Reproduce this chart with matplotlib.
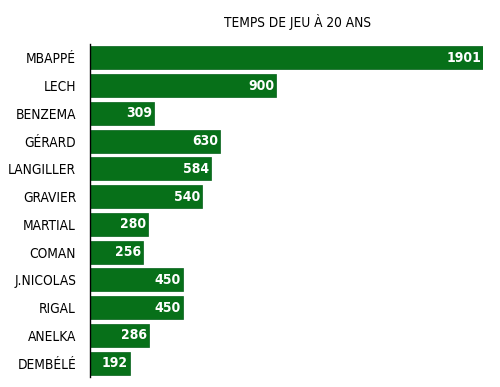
import matplotlib
matplotlib.use('Agg')
import matplotlib.pyplot as plt

# data
players = ['MBAPPÉ', 'LECH', 'BENZEMA', 'GÉRARD', 'LANGILLER', 'GRAVIER',
           'MARTIAL', 'COMAN', 'J.NICOLAS', 'RIGAL', 'ANELKA', 'DEMBÉLÉ']
minutes = [1901, 900, 309, 630, 584, 540, 280, 256, 450, 450, 286, 192]

plt.rcParams['font.family'] = ['DejaVu Sans']
plt.rcParams['font.stretch'] = 'condensed'

fig = plt.figure(figsize=(5, 3.87), dpi=100)
ax = fig.add_axes([0.18, 0.026, 0.786, 0.86])

pos = list(range(len(players)))
ax.barh(pos, minutes, height=0.83, color='#077019', edgecolor='#05601a', linewidth=0.5)
for y, v in zip(pos, minutes):
    ax.text(v - 9, y, str(v), color='white', ha='right', va='center',
            fontsize=10, fontweight='bold', fontstretch='condensed')

ax.set_yticks(pos)
ax.set_yticklabels(players, fontsize=9.8, fontstretch='condensed')
ax.set_ylim(len(players) - 0.5, -0.5)
ax.set_xlim(0, 1901)
ax.tick_params(axis='y', length=0, pad=10)
ax.set_xticks([])
for s in ['top', 'right', 'bottom']:
    ax.spines[s].set_visible(False)
ax.spines['left'].set_linewidth(1.0)

fig.text(0.594, 0.943, 'TEMPS DE JEU À 20 ANS', ha='center', va='center',
         fontsize=9.8, fontstretch='condensed')

fig.savefig('out.png', dpi=100)
